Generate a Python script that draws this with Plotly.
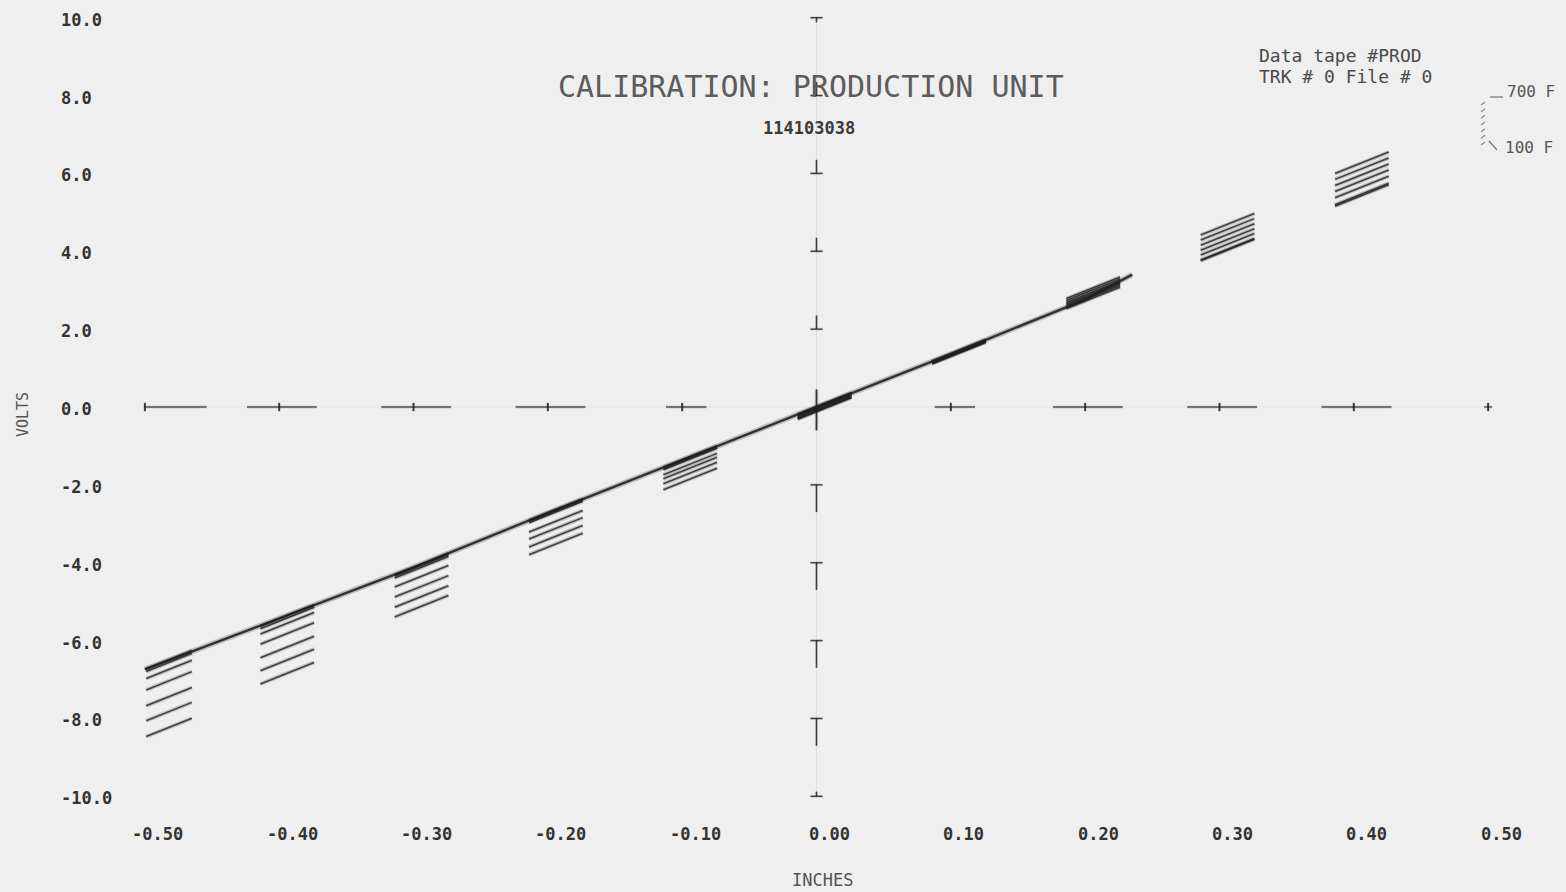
import plotly.graph_objects as go

# Calibration stations (inches) and soak temperatures (deg F)
positions = [-0.5, -0.4, -0.3, -0.2, -0.1, 0.0, 0.1, 0.2, 0.3, 0.4]
temps_f = [100, 200, 300, 400, 500, 600, 700]

# Output volts at each station, one list per temperature
volts_100F = [-6.74, -5.44, -4.12, -2.72, -1.36, 0.00, 1.36, 2.72, 3.95, 5.35]
volts_200F = [-6.81, -5.50, -4.15, -2.74, -1.38, 0.00, 1.36, 2.76, 3.97, 5.39]
volts_300F = [-6.99, -5.64, -4.20, -2.78, -1.42, -0.02, 1.35, 2.80, 4.10, 5.57]
volts_400F = [-7.28, -5.90, -4.43, -3.02, -1.55, -0.05, 1.34, 2.84, 4.22, 5.73]
volts_500F = [-7.69, -6.25, -4.69, -3.20, -1.65, -0.08, 1.33, 2.88, 4.35, 5.88]
volts_600F = [-8.07, -6.58, -4.95, -3.40, -1.78, -0.10, 1.32, 2.93, 4.48, 6.04]
volts_700F = [-8.48, -6.92, -5.20, -3.60, -1.93, -0.12, 1.30, 2.98, 4.61, 6.19]
volts_by_temp = [volts_100F, volts_200F, volts_300F, volts_400F,
                 volts_500F, volts_600F, volts_700F]

# Continuous room-temperature sweep
sweep_in = [-0.5, -0.4, -0.3, -0.2, -0.1, 0.0, 0.1, 0.2, 0.235]
sweep_v = [-6.74, -5.44, -4.12, -2.72, -1.36, 0.00, 1.36, 2.76, 3.40]

# Axis ticks and labels
x_ticks = [-0.5, -0.4, -0.3, -0.2, -0.1, 0.0, 0.1, 0.2, 0.3, 0.4, 0.5]
x_labels = ["-0.50", "-0.40", "-0.30", "-0.20", "-0.10", "0.00",
            "0.10", "0.20", "0.30", "0.40", "0.50"]
y_ticks = [10, 8, 6, 4, 2, 0, -2, -4, -6, -8, -10]
y_labels = ["10.0", "8.0", "6.0", "4.0", "2.0", "0.0",
            "-2.0", "-4.0", "-6.0", "-8.0", "-10.0"]

TITLE = "CALIBRATION: PRODUCTION UNIT"
RUN_ID = "114103038"
TAPE_INFO = ["Data tape #PROD", "TRK # 0 File # 0"]

# ---- page geometry -------------------------------------------------------
W, H = 1566, 892
ML, MR, MT, MB = 118, 51, 6, 84
XR = [-0.52, 0.52]
YR = [-10.3, 10.3]
PW, PH = W - ML - MR, H - MT - MB


def px2paper(px):
    return (px - ML) / PW


def py2paper(py):
    return (H - MB - py) / PH


INK = "rgba(28,28,28,0.85)"
HALO = "rgba(40,40,40,0.22)"
MONO = "DejaVu Sans Mono"

fig = go.Figure()

# slope of each reading stroke from the sweep
slope = (sweep_v[-1] - sweep_v[0]) / (sweep_in[-1] - sweep_in[0])


def add_soft_line(xs, ys, core=1.6, halo=4.5, core_color=INK, halo_color=HALO):
    fig.add_trace(go.Scatter(x=xs, y=ys, mode="lines", hoverinfo="skip",
                             line=dict(color=halo_color, width=halo),
                             showlegend=False))
    fig.add_trace(go.Scatter(x=xs, y=ys, mode="lines", hoverinfo="skip",
                             line=dict(color=core_color, width=core),
                             showlegend=False))


# faint zero axes
add_soft_line([0, 0], [-10, 10], core=0.8, halo=0,
              core_color="rgba(60,60,60,0.12)", halo_color="rgba(0,0,0,0)")
add_soft_line([-0.5, 0.5], [0, 0], core=0.8, halo=0,
              core_color="rgba(60,60,60,0.08)", halo_color="rgba(0,0,0,0)")

# tick marks along the zero volt line
zx, zy = [], []
for t in x_ticks:
    if t == 0:
        continue
    if abs(t) >= 0.5:
        x0, x1 = (-0.5, -0.454) if t < 0 else (t - 0.003, t + 0.003)
    elif abs(t) >= 0.2:
        x0, x1 = t - 0.024, t + 0.028
    else:
        x0, x1 = t - 0.012, t + 0.018
    zx += [x0, x1, None]
    zy += [0, 0, None]
add_soft_line(zx, zy, core=1.3, halo=3.2, core_color="rgba(35,35,35,0.7)",
              halo_color="rgba(40,40,40,0.15)")
fig.add_trace(go.Scatter(x=[t for t in x_ticks if t != 0],
                         y=[0] * (len(x_ticks) - 1), mode="markers",
                         hoverinfo="skip", showlegend=False,
                         marker=dict(symbol="line-ns", size=6,
                                     line=dict(color=INK, width=2))))

# tick marks along the zero inch line
tx, ty = [], []
for v in y_ticks:
    if v == 0:
        continue
    tx += [-0.0045, 0.0045, None]
    ty += [v, v, None]
    if abs(v) == 10:
        stem = -0.12 if v > 0 else 0.12
    else:
        stem = 0.35 if v > 0 else -0.7
    tx += [0, 0, None]
    ty += [v, v + stem, None]
add_soft_line(tx, ty, core=1.4, halo=3, core_color="rgba(30,30,30,0.8)",
              halo_color="rgba(40,40,40,0.15)")

# continuous sweep
add_soft_line(sweep_in, sweep_v, core=2.4, halo=5.5,
              core_color="rgba(25,25,25,0.85)", halo_color="rgba(40,40,40,0.25)")

# reading strokes, one trace pair per temperature
for temp, volts in zip(temps_f, volts_by_temp):
    xs, ys = [], []
    for p, v in zip(positions, volts):
        x0, x1 = p - 0.014, p + 0.026
        if x0 < -0.5:
            x0, x1 = -0.499, -0.465
        xs += [x0, x1, None]
        ys += [v + slope * (x0 - p), v + slope * (x1 - p), None]
    add_soft_line(xs, ys, core=1.6, halo=4.0,
                  core_color="rgba(28,28,28,0.78)")

# spike through the origin
add_soft_line([0, 0], [-0.6, 0.45], core=1.6, halo=3.5)

# ---- text ---------------------------------------------------------------
ann = []


def text(s, px, py, size, color="#3a3a3a", bold=False, anchor="center",
         angle=0):
    ann.append(dict(text=f"<b>{s}</b>" if bold else s, xref="paper",
                    yref="paper", x=px2paper(px), y=py2paper(py),
                    xanchor=anchor, yanchor="middle", showarrow=False,
                    textangle=angle,
                    font=dict(family=MONO, size=size, color=color)))


for t, lab in zip(x_ticks, x_labels):
    ann.append(dict(text=f"<b>{lab}</b>", xref="x", yref="paper", x=t,
                    y=py2paper(834), xshift=13, xanchor="center",
                    yanchor="middle", showarrow=False,
                    font=dict(family=MONO, size=17, color="#333333")))

for v, lab in zip(y_ticks, y_labels):
    ann.append(dict(text=f"<b>{lab}</b>", xref="paper", yref="y",
                    x=px2paper(59), y=v, yshift=-2, xanchor="left",
                    yanchor="middle", showarrow=False,
                    font=dict(family=MONO, size=17, color="#333333")))

text(TITLE, 811, 86, 30, color="#5c5c5c")
text(RUN_ID, 809, 128, 17, color="#3a3a3a", bold=True)
text("VOLTS", 23, 415, 15, color="#555555", angle=-90)
text("INCHES", 822, 880, 17, color="#555555")
text(TAPE_INFO[0], 1257, 55, 18, color="#4a4a4a", anchor="left")
text(TAPE_INFO[1], 1257, 77, 18, color="#4a4a4a", anchor="left")
text(f"{temps_f[-1]} F", 1505, 92, 16, color="#555555", anchor="left")
text(f"{temps_f[0]} F", 1503, 147, 16, color="#555555", anchor="left")

# temperature key strokes
shapes = []


def seg(x0, y0, x1, y1, color="rgba(60,60,60,0.7)", w=1.2):
    shapes.append(dict(type="line", xref="paper", yref="paper",
                       x0=px2paper(x0), y0=py2paper(y0),
                       x1=px2paper(x1), y1=py2paper(y1),
                       line=dict(color=color, width=w)))


seg(1490, 97, 1503, 97)
seg(1489, 141, 1497, 150)
n = len(temps_f)
for i in range(n):
    yy = 103 + i * (40 / (n - 1))
    seg(1481, yy + 2, 1485, yy - 1, color="rgba(60,60,60,0.55)", w=1.3)

fig.update_layout(
    width=W, height=H,
    margin=dict(l=ML, r=MR, t=MT, b=MB),
    paper_bgcolor="#efefef", plot_bgcolor="#efefef",
    xaxis=dict(range=XR, visible=False, fixedrange=True),
    yaxis=dict(range=YR, visible=False, fixedrange=True),
    annotations=ann, shapes=shapes, showlegend=False,
)

fig.write_html("out.html", config={"displayModeBar": False})
